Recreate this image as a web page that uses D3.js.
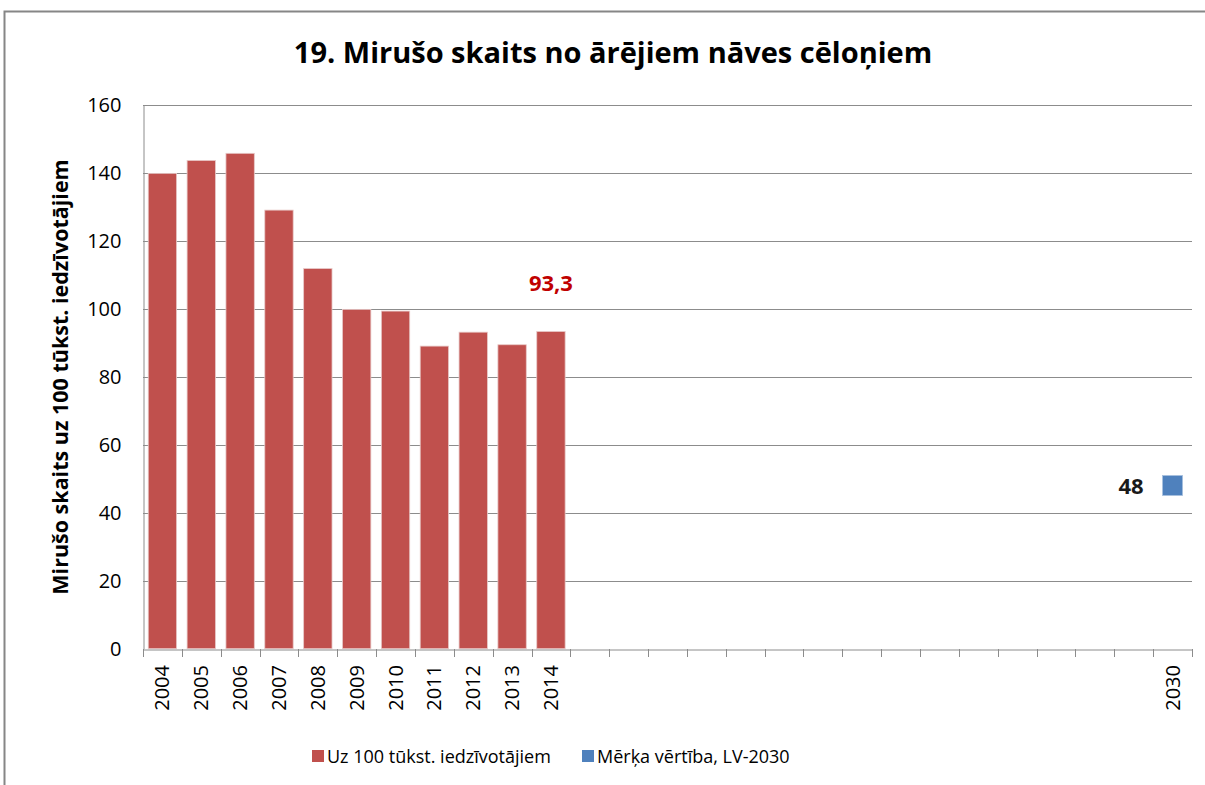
<!DOCTYPE html>
<html>
<head>
<meta charset="utf-8">
<script src="https://cdn.jsdelivr.net/npm/d3@7"></script>
<style>
  body { margin: 0; background: #fff; }
</style>
</head>
<body>
<script>
// categories on the x axis
var years = ["2004", "2005", "2006", "2007", "2008", "2009", "2010", "2011", "2012", "2013", "2014",
  "2015", "2016", "2017", "2018", "2019", "2020", "2021", "2022", "2023", "2024", "2025", "2026",
  "2027", "2028", "2029", "2030"]
// shown tick labels
var shownLabels = ["2004", "2005", "2006", "2007", "2008", "2009", "2010", "2011", "2012", "2013", "2014", "2030"]
// bar series
var barYears = ["2004", "2005", "2006", "2007", "2008", "2009", "2010", "2011", "2012", "2013", "2014"]
var barValues = [139.8, 143.6, 145.7, 129.0, 111.8, 99.8, 99.3, 89.0, 93.1, 89.4, 93.3]
// target
var targetYear = "2030"
var targetValue = 48
var yTicks = [0, 20, 40, 60, 80, 100, 120, 140, 160]

var w = 1205
var h = 785
var plotL = 143, plotR = 1192, plotT = 104.7, plotB = 648.7
var font = "'Open Sans', sans-serif"

var svg = d3.select("body").append("svg")
    .attr("width", w)
    .attr("height", h)

// outer frame
svg.append("rect")
    .attr("x", 4.5).attr("y", 11.5)
    .attr("width", 1220).attr("height", 800)
    .attr("fill", "none")
    .attr("stroke", "#868686")
    .attr("stroke-width", 2)

var xScale = d3.scaleBand()
    .domain(years)
    .range([plotL, plotR])
    .paddingInner(0.27)
    .paddingOuter(0.135)

var xCat = d3.scaleBand().domain(years).range([plotL, plotR])

var yScale = d3.scaleLinear()
    .domain([0, 160])
    .range([plotB, plotT])

// gridlines
svg.append("g")
    .selectAll("line")
    .data(yTicks.slice(1))
    .enter()
    .append("line")
    .attr("x1", plotL).attr("x2", plotR)
    .attr("y1", function(d) { return Math.round(yScale(d)) + 0.5 })
    .attr("y2", function(d) { return Math.round(yScale(d)) + 0.5 })
    .attr("stroke", "#8c8c8c")
    .attr("stroke-width", 1)

// y axis
var yAxis = d3.axisLeft(yScale).tickValues(yTicks).tickSize(0).tickPadding(22)
var yg = svg.append("g")
    .attr("transform", "translate(" + (plotL + 0.5) + ",0)")
    .call(yAxis)
yg.select(".domain").attr("stroke", "#8c8c8c")
yg.selectAll("text")
    .attr("font-size", 20)
    .attr("font-family", font)
    .attr("fill", "#000")

// bars
svg.append("g")
    .selectAll("rect")
    .data(barValues)
    .enter()
    .append("rect")
    .attr("x", function(d, i) { return xScale(barYears[i]) })
    .attr("y", function(d) { return yScale(d) })
    .attr("width", xScale.bandwidth())
    .attr("height", function(d) { return plotB - yScale(d) })
    .attr("fill", "#c0504d")
    .attr("stroke", "#e8c9c8")
    .attr("stroke-width", 0.8)

// x axis
var xAxis = d3.axisBottom(xCat).tickSize(0).tickFormat("")
var xg = svg.append("g")
    .attr("transform", "translate(0," + (Math.round(plotB) + 0.5) + ")")
    .call(xAxis)
xg.select(".domain").attr("stroke", "#8c8c8c")
xg.selectAll(".tick").remove()

// tick marks at category boundaries
var bounds = years.map(function(d) { return xCat(d) }).concat([plotR])
svg.append("g")
    .selectAll("line")
    .data(bounds)
    .enter()
    .append("line")
    .attr("x1", function(d) { return Math.round(d) + 0.5 })
    .attr("x2", function(d) { return Math.round(d) + 0.5 })
    .attr("y1", Math.round(plotB))
    .attr("y2", Math.round(plotB) + 8)
    .attr("stroke", "#8c8c8c")

// x labels
svg.append("g")
    .selectAll("text")
    .data(shownLabels)
    .enter()
    .append("text")
    .attr("text-anchor", "end")
    .attr("transform", function(d) {
        return "translate(" + (xCat(d) + xCat.bandwidth() / 2 + 7) + "," + 665 + ") rotate(-90)"
    })
    .attr("font-size", 20)
    .attr("font-family", font)
    .text(function(d) { return d })

// target marker
svg.append("rect")
    .attr("x", xCat(targetYear) + xCat.bandwidth() / 2 - 10)
    .attr("y", yScale(targetValue) - 10)
    .attr("width", 20).attr("height", 20)
    .attr("fill", "#4f81bd")
    .attr("stroke", "#a7c0de")
    .attr("stroke-width", 0.8)

svg.append("text")
    .attr("x", xCat(targetYear) + xCat.bandwidth() / 2 - 29)
    .attr("y", yScale(targetValue) + 8)
    .attr("text-anchor", "end")
    .attr("font-size", 22)
    .attr("font-weight", "bold")
    .attr("font-family", font)
    .attr("fill", "#1a1a1a")
    .text("48")

// last value label
var lastYear = barYears[barYears.length - 1]
var lastVal = barValues[barValues.length - 1]
svg.append("text")
    .attr("x", xCat(lastYear) + xCat.bandwidth() / 2)
    .attr("y", yScale(lastVal) - 40)
    .attr("text-anchor", "middle")
    .attr("font-size", 22)
    .attr("font-weight", "bold")
    .attr("font-family", font)
    .attr("fill", "#c00000")
    .text(String(lastVal).replace(".", ","))

// title
svg.append("text")
    .attr("x", 613)
    .attr("y", 63)
    .attr("text-anchor", "middle")
    .attr("font-size", 29)
    .attr("font-weight", "bold")
    .attr("font-family", font)
    .text("19. Mirušo skaits no ārējiem nāves cēloņiem")

// y axis title
svg.append("text")
    .attr("text-anchor", "middle")
    .attr("transform", "translate(68,377) rotate(-90)")
    .attr("font-size", 21.5)
    .attr("font-weight", "bold")
    .attr("font-family", font)
    .text("Mirušo skaits uz 100 tūkst. iedzīvotājiem")

// legend
var legend = [
    { name: "Uz 100 tūkst. iedzīvotājiem", color: "#c0504d", x: 312 },
    { name: "Mērķa vērtība, LV-2030", color: "#4f81bd", x: 582 }
]
var lg = svg.append("g")
    .selectAll("g")
    .data(legend)
    .enter()
    .append("g")
    .attr("transform", function(d) { return "translate(" + d.x + ",750)" })
lg.append("rect")
    .attr("width", 12).attr("height", 12)
    .attr("fill", function(d) { return d.color })
lg.append("text")
    .attr("x", 15)
    .attr("y", 12.5)
    .attr("font-size", 18)
    .attr("font-family", font)
    .text(function(d) { return d.name })
</script>
</body>
</html>
